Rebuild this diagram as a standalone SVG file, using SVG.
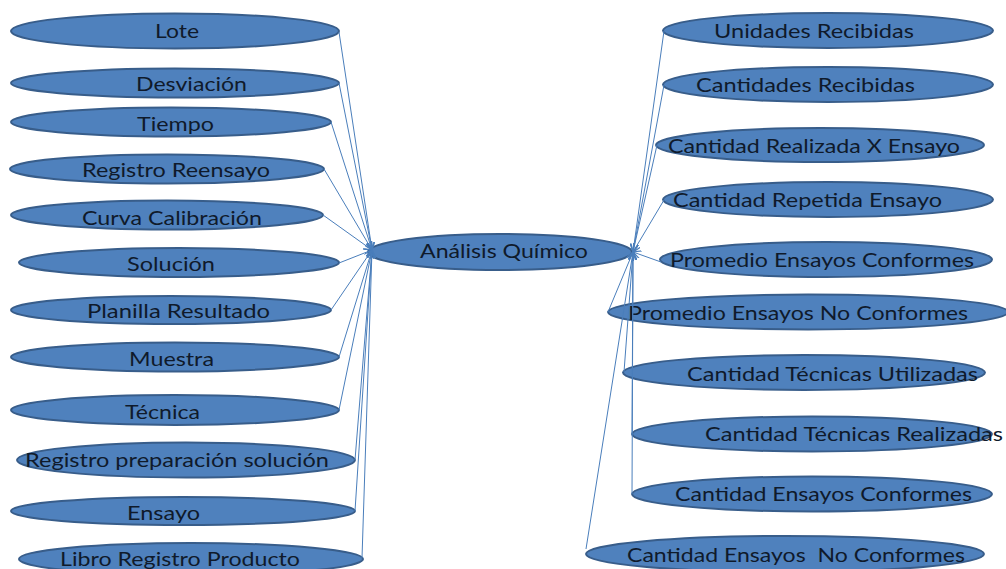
<svg xmlns="http://www.w3.org/2000/svg" width="1006" height="569" viewBox="0 0 1006 569">
  <style>
    .node ellipse { fill: #4f81bd; stroke: #385d8a; stroke-width: 2; }
    .node text { font-family: "Lato", "Open Sans", "Liberation Sans", sans-serif; font-size: 20px; fill: #0f1a2b; }
    #connectors line { stroke: #4a7ebb; stroke-width: 1; fill: none; marker-end: url(#arrow); }
  </style>
  <defs>
    <marker id="arrow" viewBox="0 0 10 10" refX="10" refY="5" markerWidth="8" markerHeight="8" markerUnits="userSpaceOnUse" orient="auto">
      <path d="M0,0 L10,5 L0,10" fill="none" stroke="#4a7ebb" stroke-width="1.5"/>
    </marker>
  </defs>
  <rect width="1006" height="569" fill="#ffffff"/>

  <!-- centre node -->
  <g id="n-analisis" class="node">
    <ellipse cx="500" cy="252" rx="132" ry="18"/>
    <text x="420" y="258" textLength="168" lengthAdjust="spacingAndGlyphs">Análisis Químico</text>
  </g>

  <!-- left column -->
  <g id="n-lote" class="node">
    <ellipse cx="175" cy="31" rx="164" ry="17.5"/>
    <text x="155" y="38" textLength="44" lengthAdjust="spacingAndGlyphs">Lote</text>
  </g>
  <g id="n-desviacion" class="node">
    <ellipse cx="175" cy="83" rx="164" ry="14.5"/>
    <text x="136" y="91" textLength="111" lengthAdjust="spacingAndGlyphs">Desviación</text>
  </g>
  <g id="n-tiempo" class="node">
    <ellipse cx="171" cy="122" rx="160" ry="14.5"/>
    <text x="137" y="131" textLength="77" lengthAdjust="spacingAndGlyphs">Tiempo</text>
  </g>
  <g id="n-reensayo" class="node">
    <ellipse cx="167" cy="169" rx="157" ry="14.5"/>
    <text x="82" y="177" textLength="188" lengthAdjust="spacingAndGlyphs">Registro Reensayo</text>
  </g>
  <g id="n-curva" class="node">
    <ellipse cx="167" cy="215" rx="156" ry="14.5"/>
    <text x="82" y="225" textLength="180" lengthAdjust="spacingAndGlyphs">Curva Calibración</text>
  </g>
  <g id="n-solucion" class="node">
    <ellipse cx="179" cy="262.5" rx="160" ry="14.5"/>
    <text x="127" y="271" textLength="88" lengthAdjust="spacingAndGlyphs">Solución</text>
  </g>
  <g id="n-planilla" class="node">
    <ellipse cx="171" cy="310" rx="160" ry="14"/>
    <text x="87" y="318" textLength="183" lengthAdjust="spacingAndGlyphs">Planilla Resultado</text>
  </g>
  <g id="n-muestra" class="node">
    <ellipse cx="175" cy="357" rx="164" ry="14.5"/>
    <text x="129" y="366" textLength="85" lengthAdjust="spacingAndGlyphs">Muestra</text>
  </g>
  <g id="n-tecnica" class="node">
    <ellipse cx="175" cy="410" rx="164" ry="15"/>
    <text x="125" y="419" textLength="75" lengthAdjust="spacingAndGlyphs">Técnica</text>
  </g>
  <g id="n-regprep" class="node">
    <ellipse cx="186" cy="460" rx="169" ry="17.5"/>
    <text x="25" y="467" textLength="304" lengthAdjust="spacingAndGlyphs">Registro preparación solución</text>
  </g>
  <g id="n-ensayo" class="node">
    <ellipse cx="183" cy="511" rx="172" ry="14"/>
    <text x="127" y="520" textLength="73" lengthAdjust="spacingAndGlyphs">Ensayo</text>
  </g>
  <g id="n-libro" class="node">
    <ellipse cx="191" cy="559" rx="172" ry="16"/>
    <text x="60" y="566" textLength="240" lengthAdjust="spacingAndGlyphs">Libro Registro Producto</text>
  </g>

  <!-- right column -->
  <g id="n-unidades" class="node">
    <ellipse cx="828" cy="30.5" rx="165" ry="17.5"/>
    <text x="714" y="38" textLength="200" lengthAdjust="spacingAndGlyphs">Unidades Recibidas</text>
  </g>
  <g id="n-cantidades" class="node">
    <ellipse cx="828" cy="84.5" rx="165" ry="17.5"/>
    <text x="696" y="92" textLength="219" lengthAdjust="spacingAndGlyphs">Cantidades Recibidas</text>
  </g>
  <g id="n-realizada" class="node">
    <ellipse cx="820" cy="145" rx="164" ry="17"/>
    <text x="668" y="153" textLength="292" lengthAdjust="spacingAndGlyphs">Cantidad Realizada X Ensayo</text>
  </g>
  <g id="n-repetida" class="node">
    <ellipse cx="828" cy="199.5" rx="165" ry="17.5"/>
    <text x="673" y="207" textLength="269" lengthAdjust="spacingAndGlyphs">Cantidad Repetida Ensayo</text>
  </g>
  <g id="n-promconf" class="node">
    <ellipse cx="826" cy="259.5" rx="166" ry="17.5"/>
    <text x="670" y="267" textLength="304" lengthAdjust="spacingAndGlyphs">Promedio Ensayos Conformes</text>
  </g>
  <g id="n-promnoconf" class="node">
    <ellipse cx="808" cy="312" rx="200" ry="17.5"/>
    <text x="628" y="320" textLength="340" lengthAdjust="spacingAndGlyphs">Promedio Ensayos No Conformes</text>
  </g>
  <g id="n-tecutil" class="node">
    <ellipse cx="804" cy="372.5" rx="181" ry="17.5"/>
    <text x="687" y="381" textLength="291" lengthAdjust="spacingAndGlyphs">Cantidad Técnicas Utilizadas</text>
  </g>
  <g id="n-tecreal" class="node">
    <ellipse cx="812" cy="434" rx="180" ry="17.5"/>
    <text x="705" y="441" textLength="298" lengthAdjust="spacingAndGlyphs">Cantidad Técnicas Realizadas</text>
  </g>
  <g id="n-ensconf" class="node">
    <ellipse cx="812" cy="494" rx="180" ry="17.5"/>
    <text x="675" y="501" textLength="297" lengthAdjust="spacingAndGlyphs">Cantidad Ensayos Conformes</text>
  </g>
  <g id="n-ensnoconf" class="node">
    <ellipse cx="785" cy="554" rx="199" ry="18"/>
    <text x="627" y="562" textLength="338" lengthAdjust="spacingAndGlyphs" xml:space="preserve">Cantidad Ensayos  No Conformes</text>
  </g>

  <!-- connectors: every outer node points into the centre node -->
  <g id="connectors">
    <line x1="339" y1="32" x2="372" y2="250"/>
    <line x1="339" y1="83" x2="372" y2="250"/>
    <line x1="331" y1="122" x2="372" y2="250"/>
    <line x1="324" y1="169" x2="372" y2="250"/>
    <line x1="323" y1="215" x2="372" y2="250"/>
    <line x1="339" y1="263" x2="372" y2="250"/>
    <line x1="331" y1="310" x2="372" y2="250"/>
    <line x1="339" y1="357" x2="372" y2="250"/>
    <line x1="339" y1="410" x2="372" y2="250"/>
    <line x1="355" y1="460" x2="372" y2="250"/>
    <line x1="355" y1="511" x2="372" y2="250"/>
    <line x1="362" y1="558" x2="372" y2="250"/>

    <line x1="664" y1="31" x2="633" y2="252"/>
    <line x1="664" y1="85" x2="633" y2="252"/>
    <line x1="657" y1="145" x2="633" y2="252"/>
    <line x1="664" y1="200" x2="633" y2="252"/>
    <line x1="661" y1="262" x2="633" y2="252"/>
    <line x1="608" y1="312" x2="633" y2="252"/>
    <line x1="624" y1="372" x2="633" y2="252"/>
    <line x1="632" y1="434" x2="633" y2="252"/>
    <line x1="632" y1="494" x2="633" y2="252"/>
    <line x1="586" y1="549" x2="633" y2="252"/>
  </g>
</svg>
